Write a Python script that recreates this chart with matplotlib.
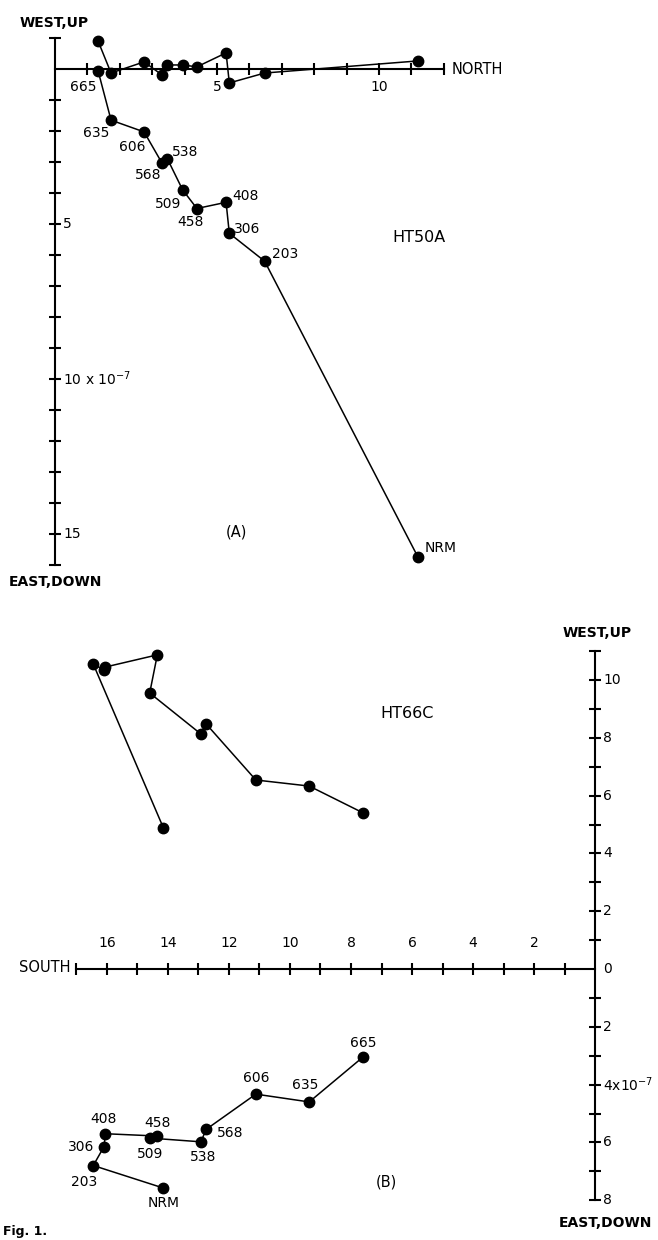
import matplotlib
matplotlib.use("Agg")
import matplotlib.pyplot as plt

steps = ["NRM", "203", "306", "408", "458", "509", "538", "568", "606", "635", "665"]

# HT50A  (units of 10^-7)
a_north = [11.2, 6.47, 5.38, 5.28, 4.38, 3.94, 3.47, 3.30, 2.75, 1.73, 1.33]
a_west = [0.26, -0.13, -0.45, 0.52, 0.07, 0.13, 0.13, -0.19, 0.23, -0.13, 0.90]
a_down = [15.74, 6.20, 5.30, 4.30, 4.50, 3.90, 2.90, 3.03, 2.03, 1.65, 0.06]

# HT66C
b_south = [14.15, 16.45, 16.10, 16.05, 14.35, 14.60, 12.92, 12.75, 11.12, 9.37, 7.60]
b_west = [4.88, 10.55, 10.35, 10.45, 10.87, 9.55, 8.13, 8.48, 6.54, 6.33, 5.40]
b_down = [7.58, 6.80, 6.15, 5.70, 5.78, 5.85, 5.98, 5.55, 4.33, 4.60, 3.04]

a_xticks = list(range(1, 12))
a_yticks = list(range(1, 16))
b_xticks = list(range(1, 17))
b_yticks = [v for v in range(-7, 11) if v != 0]

W, H = 658, 1240
fig = plt.figure(figsize=(W / 100, H / 100), dpi=100)
plt.rcParams['font.family'] = ['DejaVu Sans']

def ftext(x, y, s, **kw):
    fig.text(x / W, 1 - y / H, s, **kw)

# label offsets (px right, px down, alignment)
a_off = {"NRM": (7, -9, "left"), "203": (7, -7, "left"), "306": (5, -4, "left"),
         "408": (6, -6, "left"), "458": (-6, 14, "center"), "509": (-15, 14, "center"),
         "538": (5, -7, "left"), "568": (-14, 12, "center"), "606": (-12, 15, "center"),
         "635": (-15, 13, "center"), "665": (-15, 16, "center")}
b_off = {"NRM": (0, 15, "center"), "203": (-9, 16, "center"), "306": (-10, 0, "right"),
         "408": (-2, -15, "center"), "458": (0, -13, "center"), "509": (0, 16, "center"),
         "538": (2, 15, "center"), "568": (11, 4, "left"), "606": (0, -16, "center"),
         "635": (-4, -17, "center"), "665": (0, -14, "center")}

axw = 1.5
tk = 8
dot = dict(marker='o', ms=7.5, color='black', lw=1.1)

# ---------- panel A ----------
axa = fig.add_axes([0, 1 - 600 / H, 1, 600 / H])
axa.set_xlim(-55 / 32.4, (W - 55) / 32.4)
axa.set_ylim(-(600 - 69) / 31.0, 69 / 31.0)
axa.axis('off')
axa.plot([0, 12], [0, 0], color='black', lw=axw)
axa.plot([0, 0], [1, -16], color='black', lw=axw)
axa.plot(a_xticks + [12], [0] * (len(a_xticks) + 1), ls='none', marker='|', ms=tk, mew=axw, color='black')
axa.plot([0] * (len(a_yticks) + 2), [1] + [-v for v in a_yticks] + [-16], ls='none', marker='_', ms=tk, mew=axw, color='black')

axa.plot(a_north, a_west, **dot)
axa.plot(a_north, [-d for d in a_down], **dot)
for s, x, d in zip(steps, a_north, a_down):
    dx, dy, ha = a_off[s]
    axa.annotate(s, (x, -d), xytext=(dx / 1.389, -dy / 1.389), textcoords='offset points',
                 ha=ha, va='center', fontsize=10)

for v in [5, 10]:
    axa.annotate(str(v), (v, 0), xytext=(0, -18 / 1.389), textcoords='offset points',
                 ha='center', va='center', fontsize=10)
for v, s in [(5, "5"), (10, "10 x 10$^{-7}$"), (15, "15")]:
    axa.annotate(s, (0, -v), xytext=(8 / 1.389, 0), textcoords='offset points',
                 ha='left', va='center', fontsize=10)

ftext(54, 23, "WEST,UP", ha='center', va='center', fontsize=10, fontweight='bold')
ftext(452, 70, "NORTH", ha='left', va='center', fontsize=10.5)
ftext(55, 582, "EAST,DOWN", ha='center', va='center', fontsize=10, fontweight='bold')
ftext(419, 238, "HT50A", ha='center', va='center', fontsize=11.5)
ftext(236, 532, "(A)", ha='center', va='center', fontsize=10.5)

# ---------- panel B ----------
axb = fig.add_axes([0, 0, 1, 640 / H])
axb.set_xlim(595 / 30.5, (595 - W) / 30.5)
axb.set_ylim((969 - H) / 28.9, (969 - 600) / 28.9)
axb.axis('off')
axb.plot([17, 0], [0, 0], color='black', lw=axw)
axb.plot([0, 0], [11, -8], color='black', lw=axw)
axb.plot(b_xticks + [17], [0] * (len(b_xticks) + 1), ls='none', marker='|', ms=tk, mew=axw, color='black')
axb.plot([0] * (len(b_yticks) + 2), b_yticks + [11, -8], ls='none', marker='_', ms=tk, mew=axw, color='black')

axb.plot(b_south, b_west, **dot)
axb.plot(b_south, [-d for d in b_down], **dot)
for s, x, d in zip(steps, b_south, b_down):
    dx, dy, ha = b_off[s]
    axb.annotate(s, (x, -d), xytext=(dx / 1.389, -dy / 1.389), textcoords='offset points',
                 ha=ha, va='center', fontsize=10)

for v in range(2, 17, 2):
    axb.annotate(str(v), (v, 0), xytext=(0, 26 / 1.389), textcoords='offset points',
                 ha='center', va='center', fontsize=10)
for v, s in [(10, "10"), (8, "8"), (6, "6"), (4, "4"), (2, "2"), (0, "0"),
             (-2, "2"), (-4, "4x10$^{-7}$"), (-6, "6"), (-8, "8")]:
    axb.annotate(s, (0, v), xytext=(8 / 1.389, 0), textcoords='offset points',
                 ha='left', va='center', fontsize=10)

ftext(597, 633, "WEST,UP", ha='center', va='center', fontsize=10, fontweight='bold')
ftext(70, 968, "SOUTH", ha='right', va='center', fontsize=10.5)
ftext(605, 1223, "EAST,DOWN", ha='center', va='center', fontsize=10, fontweight='bold')
ftext(407, 713, "HT66C", ha='center', va='center', fontsize=11.5)
ftext(386, 1182, "(B)", ha='center', va='center', fontsize=10.5)
ftext(3, 1231, "Fig. 1.", ha='left', va='center', fontsize=9, fontweight='bold')

fig.savefig("out.png", dpi=100)
